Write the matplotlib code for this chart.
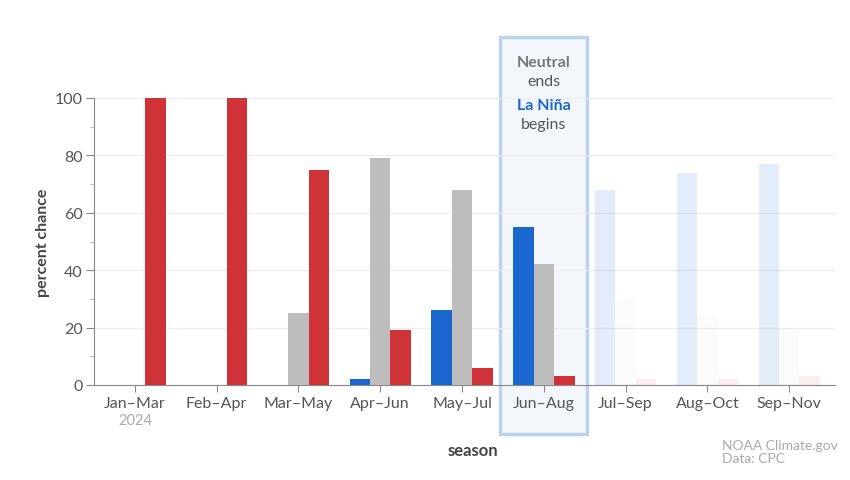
import numpy as np
import matplotlib.pyplot as plt
from matplotlib.patches import Rectangle

plt.rcParams['font.family'] = ['Lato', 'DejaVu Sans']

seasons = ['Jan–Mar', 'Feb–Apr', 'Mar–May', 'Apr–Jun', 'May–Jul',
           'Jun–Aug', 'Jul–Sep', 'Aug–Oct', 'Sep–Nov']
la_nina = [0, 0, 0, 2, 26, 55, 68, 74, 77]
neutral = [0, 0, 25, 79, 68, 42, 30, 24, 20]
el_nino = [100, 100, 75, 19, 6, 3, 2, 2, 3]
n_solid = 6  # seasons after this are faded

blue = '#1a67cf'
gray = '#bdbdbd'
red = '#d03337'
txt = '#555555'

fig = plt.figure(figsize=(8.5, 4.81), dpi=100)

# highlight box around Jun-Aug (drawn behind the axes)
box = Rectangle((500 / 850, (481 - 435) / 481), 87 / 850, (435 - 38) / 481,
                transform=fig.transFigure, facecolor='#f3f7fc',
                edgecolor='#bcd3ec', linewidth=2.5, zorder=-1)
fig.patches.append(box)

ax = fig.add_axes([94 / 850, (481 - 386) / 481, (835 - 94) / 850, (386 - 99) / 481])
ax.patch.set_alpha(0)
ax.set_ylim(0, 100)
ax.set_xlim(-0.5, 8.56)

x = np.arange(len(seasons))
w = 0.25
for i in x:
    a = 1.0 if i < n_solid else 0.12
    ax.bar(i - w, la_nina[i], w, color=blue, alpha=a, zorder=3)
    ax.bar(i, neutral[i], w, color=gray, alpha=a * (1 if i < n_solid else 0.5), zorder=3)
    ax.bar(i + w, el_nino[i], w, color=red, alpha=a * (1 if i < n_solid else 0.7), zorder=3)

# grid and axes styling
ax.set_yticks([0, 20, 40, 60, 80, 100])
ax.set_yticks([10, 30, 50, 70, 90], minor=True)
ax.grid(axis='y', color='#eeeeee', linewidth=0.9, zorder=0)
for s in ['top', 'right']:
    ax.spines[s].set_visible(False)
ax.spines['left'].set_color('#888888')
ax.spines['bottom'].set_color('#888888')
ax.tick_params(axis='y', which='major', length=6, color='#888888', labelsize=11.5, labelcolor=txt, pad=2)
ax.tick_params(axis='y', which='minor', length=3, color='#aaaaaa')
ax.set_xticks(x)
ax.set_xticklabels(seasons)
ax.tick_params(axis='x', length=5, color='#888888', labelsize=11.5, labelcolor=txt, pad=3)

ax.set_ylabel('percent chance', fontsize=11.5, fontweight='bold', color='#444444')
ax.yaxis.set_label_coords(-(94 - 50) / (835 - 94), 0.5)
ax.set_xlabel('season', fontsize=12, fontweight='bold', color='#444444')
ax.xaxis.set_label_coords((473 - 94) / (835 - 94), -0.2)

bx = 543.5 / 850
fig.text(bx, 1 - 63 / 481, 'Neutral', ha='center', va='center', fontsize=11.5, color='#777777', fontweight='bold')
fig.text(bx, 1 - 82 / 481, 'ends', ha='center', va='center', fontsize=11.5, color='#555555')
fig.text(bx, 1 - 106 / 481, 'La Niña', ha='center', va='center', fontsize=11.5, color=blue, fontweight='bold')
fig.text(bx, 1 - 125 / 481, 'begins', ha='center', va='center', fontsize=11.5, color='#555555')

fig.text(135 / 850, 1 - 421 / 481, '2024', ha='center', va='center', fontsize=10.5, color='#aaaaaa')
fig.text(722 / 850, 1 - 453 / 481, 'NOAA Climate.gov\nData: CPC', ha='left', va='center',
         fontsize=10, color='#aaaaaa', linespacing=1.1)

fig.savefig('out.png', dpi=100, facecolor='white')
